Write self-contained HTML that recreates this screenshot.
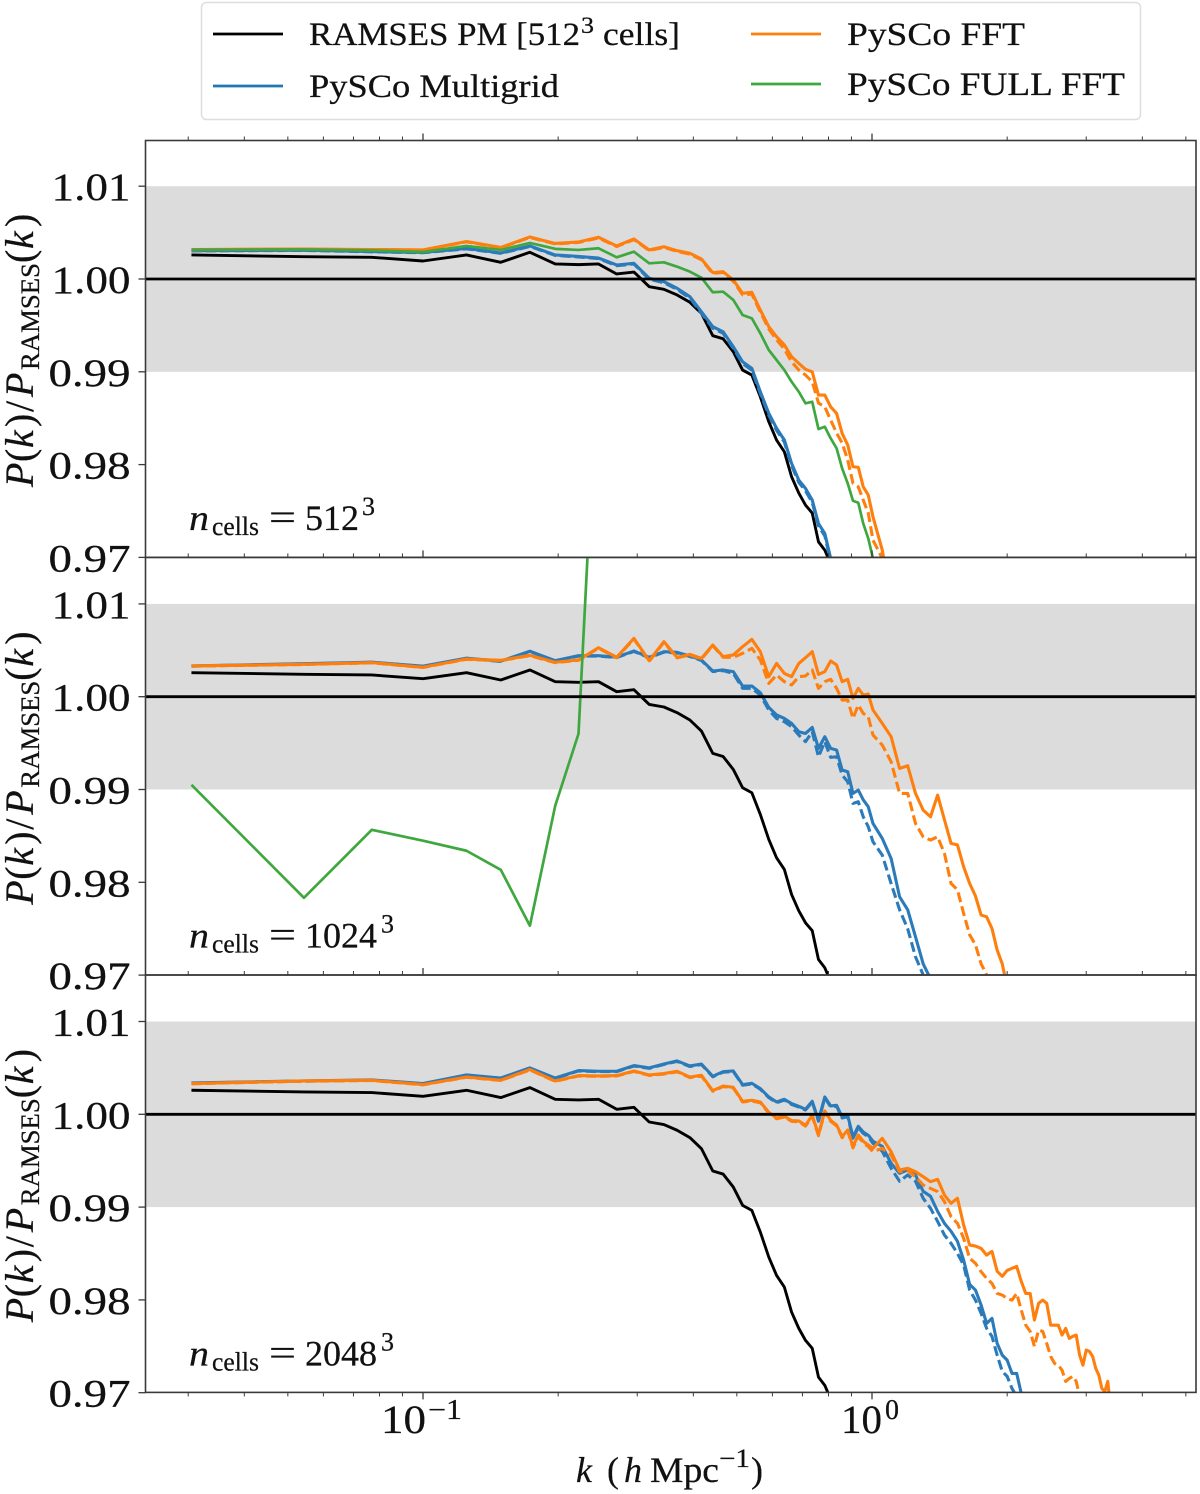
<!DOCTYPE html>
<html lang="en">
<head>
<meta charset="utf-8">
<title>PySCo power spectrum ratio</title>
<style>
html,body{margin:0;padding:0;background:#fff;}
svg{display:block;}
text{font-family:"Liberation Serif","DejaVu Serif",serif;fill:#111;stroke:#111;stroke-width:0.25px;}
</style>
</head>
<body>
<svg id="chart" xmlns="http://www.w3.org/2000/svg" width="1200" height="1494" viewBox="0 0 1200 1494">
  <g id="panels"></g>
  <g id="legend">
    <rect x="201.5" y="2.5" width="939" height="117" rx="5" fill="#fff" stroke="#dedede" stroke-width="1.5"/>
    <line x1="213" x2="283" y1="34" y2="34" stroke="#000" stroke-width="2.7"/>
    <text x="309" y="45" font-size="33" textLength="271" lengthAdjust="spacingAndGlyphs">RAMSES PM [512</text>
    <text x="581" y="33" font-size="23" textLength="13" lengthAdjust="spacingAndGlyphs">3</text>
    <text x="603" y="45" font-size="33" textLength="77" lengthAdjust="spacingAndGlyphs">cells]</text>
    <line x1="213" x2="283" y1="86" y2="86" stroke="#1f77b4" stroke-width="2.7"/>
    <text x="309" y="97" font-size="33" textLength="250" lengthAdjust="spacingAndGlyphs">PySCo Multigrid</text>
    <line x1="751" x2="821" y1="34" y2="34" stroke="#ff7f0e" stroke-width="2.7"/>
    <text x="847" y="45" font-size="33" textLength="178" lengthAdjust="spacingAndGlyphs">PySCo FFT</text>
    <line x1="751" x2="821" y1="84" y2="84" stroke="#3fa73f" stroke-width="2.7"/>
    <text x="847" y="95" font-size="33" textLength="278" lengthAdjust="spacingAndGlyphs">PySCo FULL FFT</text>
  </g>
  <g id="x-axis-title">
    <text x="576" y="1482" font-size="36" font-style="italic">k</text>
    <text x="607" y="1482" font-size="36">(</text>
    <text x="624" y="1482" font-size="36" font-style="italic">h</text>
    <text x="650" y="1482" font-size="36" textLength="69" lengthAdjust="spacingAndGlyphs">Mpc</text>
    <text x="719" y="1467" font-size="26" textLength="31" lengthAdjust="spacingAndGlyphs">−1</text>
    <text x="751" y="1482" font-size="36">)</text>
  </g>
</svg>
<script>
// ---- chart data ----
const kBins = [0.0305,0.0543,0.0769,0.1,0.125,0.149,0.173,0.197,0.222,0.246,0.27,0.295,0.319,0.344,0.368,0.393,0.417,0.442,0.466,0.491,0.515,0.54,0.564,0.589,0.613,0.638,0.662,0.687,0.711,0.736,0.76,0.785,0.809,0.834,0.858,0.883,0.907,0.932,0.956,0.981,1.005,1.054,1.103,1.152,1.201,1.25,1.3,1.35,1.4,1.45,1.5,1.55,1.6,1.65,1.7,1.75,1.8,1.85,1.9,1.95,2,2.05,2.1,2.15,2.2,2.25,2.3,2.35,2.4,2.45,2.5,2.55,2.6,2.65,2.7,2.75,2.8,2.85,2.9,2.95,3,3.05,3.1,3.15,3.2,3.25,3.3,3.35,3.38];

const ramsesRatio = [1.00259,1.00241,1.00234,1.00194,1.00259,1.0018,1.00288,1.00162,1.00155,1.00162,1.00054,1.00075,0.99917,0.99889,0.99828,0.99749,0.9963,0.99389,0.99356,0.99216,0.99019,0.98965,0.98731,0.98462,0.98264,0.98138,0.97869,0.97693,0.97564,0.97478,0.97168,0.97079,0.9693,0.966];

const p512MultigridSolid = [1.00305,1.0031,1.00295,1.00286,1.00329,1.0028,1.00356,1.00259,1.00243,1.00226,1.00151,1.00169,1.00008,0.99971,0.999,0.99809,0.99647,0.99486,0.99432,0.9927,0.99108,0.99037,0.98785,0.98553,0.98392,0.98265,0.98014,0.97833,0.97744,0.97618,0.97365,0.97258,0.96989,0.9675];
const p512MultigridDashed = [1.00303,1.00308,1.00293,1.00283,1.00325,1.00276,1.00351,1.00254,1.00238,1.0022,1.00143,1.00162,0.99998,0.9996,0.99888,0.99795,0.99632,0.9947,0.99415,0.99252,0.9909,0.99018,0.98765,0.98532,0.9837,0.98243,0.9799,0.97808,0.97718,0.97592,0.97338,0.97232,0.96962,0.9672];
const p512FftSolid = [1.00318,1.00323,1.00318,1.00313,1.00404,1.0034,1.00453,1.00383,1.00399,1.0045,1.00356,1.00431,1.00313,1.00348,1.00305,1.00277,1.00216,1.00068,1.00079,0.99989,0.99846,0.99857,0.99666,0.99486,0.99378,0.99289,0.99163,0.99091,0.99027,0.99,0.98749,0.98749,0.98623,0.98552,0.98337,0.98211,0.97977,0.97971,0.97761,0.97672,0.97438,0.97079,0.9654];
const p512FftDashed = [1.00316,1.00321,1.00316,1.00311,1.004,1.00336,1.00448,1.00378,1.00394,1.00442,1.0035,1.00425,1.00307,1.0034,1.00298,1.00268,1.00208,1.0006,1.00071,0.99975,0.9983,0.99838,0.99645,0.99462,0.99345,0.99245,0.99108,0.99019,0.98965,0.98893,0.98663,0.98623,0.9848,0.9834,0.98232,0.98049,0.978,0.97761,0.97618,0.97478,0.97186,0.96992,0.9645];
const p512FullFft = [1.00316,1.00318,1.00307,1.00291,1.00356,1.00313,1.00388,1.00325,1.00313,1.00331,1.00234,1.00294,1.00169,1.0018,1.00133,1.00079,1.00014,0.99857,0.99863,0.99774,0.99612,0.99576,0.99415,0.99235,0.99127,0.99019,0.98893,0.98785,0.9866,0.98677,0.98383,0.98408,0.98283,0.98175,0.97959,0.97797,0.9761,0.97589,0.97366,0.97204,0.96989,0.966];

const p1024MultigridSolid = [1.00331,1.00356,1.00372,1.00329,1.00415,1.00383,1.0049,1.00388,1.00442,1.00442,1.00426,1.00493,1.00424,1.00485,1.00478,1.00439,1.00396,1.00277,1.00288,1.0027,1.00115,1.00115,1.00043,0.99885,0.99803,0.99766,0.99712,0.99623,0.99604,0.99669,0.99443,0.99569,0.99443,0.99425,0.9921,0.99191,0.98958,0.98994,0.98889,0.98814,0.98634,0.98473,0.98257,0.97844,0.97704,0.97413,0.97122,0.9696,0.9675];
const p1024MultigridDashed = [1.00329,1.00354,1.0037,1.00327,1.00412,1.0038,1.00486,1.00384,1.00438,1.00438,1.00422,1.00488,1.00419,1.0048,1.00472,1.00433,1.0039,1.00271,1.00281,1.00251,1.0009,1.0009,1.00018,0.99857,0.99766,0.9973,0.99677,0.99587,0.99515,0.99623,0.99353,0.99515,0.99346,0.99353,0.99156,0.99084,0.9885,0.98868,0.98706,0.98599,0.98437,0.98293,0.97987,0.97704,0.97499,0.97197,0.97003,0.9685];
const p1024FftSolid = [1.00331,1.00349,1.00367,1.00317,1.00406,1.00392,1.00446,1.00371,1.00396,1.00528,1.00425,1.00629,1.00388,1.00593,1.00424,1.00456,1.00413,1.00557,1.00431,1.0045,1.00539,1.00618,1.00485,1.00216,1.00359,1.00251,1.00216,1.00359,1.0042,1.00485,1.0024,1.0027,1.00385,1.00342,1.00162,1.00187,0.99982,1.0009,1.00018,1.00029,0.99857,0.99712,0.99569,0.99227,0.99256,0.98958,0.98778,0.98706,0.9894,0.98674,0.98419,0.98403,0.98167,0.97987,0.97852,0.97647,0.97628,0.97502,0.97271,0.97122,0.96873];
const p1024FftDashed = [1.00329,1.00347,1.00365,1.00315,1.00403,1.00389,1.00442,1.00367,1.00392,1.00522,1.0042,1.00622,1.00382,1.00586,1.00418,1.0045,1.00407,1.0055,1.00425,1.00424,1.00467,1.00521,1.00396,1.00143,1.00234,1.00162,1.00126,1.00216,1.00223,1.00288,1.0009,1.00162,1.00187,1.0009,0.99964,0.99964,0.99766,0.9991,0.9982,0.99784,0.99587,0.99479,0.99299,0.98958,0.98958,0.98634,0.98491,0.98455,0.98491,0.98311,0.97987,0.97919,0.97664,0.97434,0.97326,0.97122,0.97003,0.96873];
const p1024FullFft = [0.99051,0.97833,0.98566,0.98448,0.9834,0.98135,0.97532,0.98825,0.99601,1.0385];

const p2048MultigridSolid = [1.00338,1.00359,1.0037,1.00331,1.00424,1.00391,1.005,1.00391,1.00471,1.00464,1.00464,1.00525,1.005,1.00542,1.00575,1.00521,1.00542,1.0041,1.0046,1.00467,1.0032,1.00334,1.00277,1.00187,1.00133,1.00162,1.00115,1.00086,1.00054,1.0014,0.99935,1.00187,1.0009,1.00097,0.99971,0.99989,0.99755,0.99871,0.99809,0.99774,0.9971,0.99655,0.99472,0.99364,0.994,0.99346,0.9917,0.99116,0.98954,0.98825,0.98739,0.98631,0.98429,0.98167,0.98106,0.97944,0.97747,0.97801,0.97531,0.97405,0.97351,0.97208,0.97208,0.96992,0.9675];
const p2048MultigridDashed = [1.00336,1.00357,1.00368,1.00329,1.00421,1.00388,1.00496,1.00387,1.00467,1.0046,1.0046,1.0052,1.00495,1.00537,1.0057,1.00515,1.00536,1.00404,1.00454,1.0046,1.00313,1.00327,1.0027,1.0018,1.00125,1.00154,1.00107,1.00078,1.00046,1.00132,0.99925,1.00176,1.0008,1.00086,0.9996,0.99975,0.99742,0.99858,0.99795,0.9976,0.99687,0.99601,0.99418,0.99278,0.99346,0.99278,0.99095,0.98987,0.98846,0.98699,0.98609,0.98501,0.98375,0.98106,0.97998,0.97855,0.97693,0.97607,0.97405,0.9723,0.97176,0.97046,0.9696,0.9675];
const p2048FftSolid = [1.00331,1.00359,1.00366,1.0032,1.00402,1.00367,1.00482,1.00359,1.00417,1.00413,1.00417,1.00467,1.00424,1.00439,1.00464,1.00402,1.0042,1.00255,1.00305,1.00291,1.0014,1.00151,1.00133,1.00022,0.9996,0.99978,0.99932,0.99928,0.99881,0.99989,0.99781,1.00036,0.99935,0.99885,0.9976,0.99831,0.99652,0.99777,0.99709,0.99669,0.99633,0.99741,0.99598,0.994,0.99418,0.99382,0.99328,0.99274,0.99299,0.9913,0.99041,0.99095,0.98807,0.98591,0.9858,0.98555,0.98483,0.98523,0.98308,0.98254,0.98318,0.9834,0.98361,0.982,0.9807,0.9807,0.97783,0.97963,0.97998,0.97963,0.97728,0.97728,0.97728,0.97621,0.97693,0.97585,0.97607,0.97621,0.97405,0.97297,0.97459,0.97445,0.97391,0.97262,0.9719,0.97046,0.97014,0.97122,0.9695];
const p2048FftDashed = [1.00329,1.00357,1.00364,1.00318,1.00399,1.00364,1.00478,1.00355,1.00413,1.00409,1.00413,1.00462,1.00419,1.00434,1.00458,1.00396,1.00414,1.00249,1.00299,1.00284,1.00133,1.00143,1.00125,1.00014,0.99952,0.9997,0.99924,0.9992,0.99873,0.99978,0.9977,1.00026,0.99925,0.99875,0.99748,0.99818,0.99638,0.99762,0.99694,0.99652,0.99598,0.99633,0.99561,0.99382,0.99393,0.99328,0.99238,0.99202,0.99167,0.99059,0.98897,0.98825,0.98663,0.98448,0.98394,0.98304,0.98232,0.98178,0.9807,0.98052,0.98016,0.97998,0.9807,0.9789,0.97728,0.97661,0.97499,0.97675,0.97661,0.97531,0.97391,0.97316,0.97297,0.97243,0.97122,0.97154,0.97176,0.97122,0.9696,0.9685];

const yTickValues = [1.01,1.00,0.99,0.98,0.97];
const yTickLabels = ["1.01","1.00","0.99","0.98","0.97"];
const xMajorTicks = [0.1,1];
const xMinorTicks = [0.03,0.04,0.05,0.06,0.07,0.08,0.09,0.2,0.3,0.4,0.5,0.6,0.7,0.8,0.9,2,3,4,5];
const panelGridSizes = ["512","1024","2048"];

// ---- axis functions ----
const NS = "http://www.w3.org/2000/svg";
const plotLeft = 145.5, plotRight = 1196;
const panelUnity = [279, 696.7, 1114.3];
const panelTop = [140.5, 557.4, 975];
const panelBottom = [557.4, 975, 1392.4];
function xScale(k){ return 872 + 449 * Math.log10(k); }
function yScale(panel, ratio){ return panelUnity[panel] - (ratio - 1) * 9280; }

function make(tag, name, attrs, parent, content){
  const el = document.createElementNS(NS, tag);
  for (const key in attrs) el.setAttribute(key, attrs[key]);
  
  
  if (content !== undefined) el.textContent = content;
  parent.appendChild(el);
  return el;
}

function drawSeries(group, panel, values, name, color, width, dashed){
  const d = values.map(function(v, i){
    return (i ? "L" : "M") + xScale(kBins[i]).toFixed(2) + " " + yScale(panel, v).toFixed(2);
  }).join(" ");
  const attrs = {d: d, fill: "none", stroke: color, "stroke-width": width, "stroke-linejoin": "round"};
  if (dashed) attrs["stroke-dasharray"] = "10 4.3";
  make("path", name, attrs, group);
}

const panelSeries = [
  [p512MultigridSolid, p512MultigridDashed, p512FftSolid, p512FftDashed, p512FullFft],
  [p1024MultigridSolid, p1024MultigridDashed, p1024FftSolid, p1024FftDashed, p1024FullFft],
  [p2048MultigridSolid, p2048MultigridDashed, p2048FftSolid, p2048FftDashed, null]
];

const root = document.getElementById("panels");
panelGridSizes.forEach(function(size, p){
  const g = make("g", "panel-" + size, {}, root);
  const top = panelTop[p], bottom = panelBottom[p];

  const clip = make("clipPath", "panel-clip-" + size, {id: "clip" + p}, g);
  make("rect", "panel-clip-area-" + size, {x: plotLeft, y: top, width: plotRight - plotLeft, height: bottom - top}, clip);

  const plot = make("g", "plot-area-" + size, {"clip-path": "url(#clip" + p + ")"}, g);
  make("rect", "one-percent-band-" + size, {
    x: plotLeft, width: plotRight - plotLeft,
    y: yScale(p, 1.01), height: yScale(p, 0.99) - yScale(p, 1.01),
    fill: "#dcdcdc"
  }, plot);

  const s = panelSeries[p];
  drawSeries(plot, p, ramsesRatio, "ramses-line-" + size, "#000", 2.9, false);
  drawSeries(plot, p, s[0], "multigrid-solid-line-" + size, "#2b7bba", 3.1, false);
  drawSeries(plot, p, s[1], "multigrid-dashed-line-" + size, "#2b7bba", 3.1, true);
  drawSeries(plot, p, s[2], "fft-solid-line-" + size, "#ff7f0e", 3.1, false);
  drawSeries(plot, p, s[3], "fft-dashed-line-" + size, "#ff7f0e", 3.1, true);
  if (s[4]) drawSeries(plot, p, s[4], "full-fft-line-" + size, "#3fa73f", 2.7, false);
  make("line", "unity-line-" + size, {x1: plotLeft, x2: plotRight, y1: yScale(p, 1), y2: yScale(p, 1), stroke: "#000", "stroke-width": 2.8}, plot);

  make("rect", "axes-frame-" + size, {x: plotLeft, y: top, width: plotRight - plotLeft, height: bottom - top, fill: "none", stroke: "#3a3a3a", "stroke-width": 1.6}, g);

  yTickValues.forEach(function(v, i){
    const y = yScale(p, v);
    make("line", "y-tick-" + size + "-" + yTickLabels[i], {x1: plotLeft - 7, x2: plotLeft, y1: y, y2: y, stroke: "#3a3a3a", "stroke-width": 1.3}, g);
    make("text", "y-tick-label-" + size + "-" + yTickLabels[i], {
      x: 130.5, y: y + 14, "font-size": 39, "text-anchor": "end",
      textLength: yTickLabels[i].charAt(0) === "1" ? 79 : 82, lengthAdjust: "spacingAndGlyphs"
    }, g, yTickLabels[i]);
  });

  xMajorTicks.forEach(function(k){
    const x = xScale(k);
    make("line", "top-major-tick-" + size + "-" + k, {x1: x, x2: x, y1: top - 7, y2: top, stroke: "#3a3a3a", "stroke-width": 1.3}, g);
    if (p === 2) make("line", "bottom-major-tick-" + k, {x1: x, x2: x, y1: bottom, y2: bottom + 7, stroke: "#3a3a3a", "stroke-width": 1.3}, g);
  });
  xMinorTicks.forEach(function(k){
    const x = xScale(k);
    make("line", "top-minor-tick-" + size + "-" + k, {x1: x, x2: x, y1: top - 4, y2: top, stroke: "#3a3a3a", "stroke-width": 1}, g);
    if (p === 2) make("line", "bottom-minor-tick-" + k, {x1: x, x2: x, y1: bottom, y2: bottom + 4, stroke: "#3a3a3a", "stroke-width": 1}, g);
  });

  // y axis title
  const off = panelUnity[p] - panelUnity[0];
  const yLabel = make("g", "y-axis-title-" + size, {transform: "translate(33," + (487 + off) + ") rotate(-90)"}, g);
  make("text", "y-title-p-" + size, {x: 0, y: 0, "font-size": 40, "font-style": "italic"}, yLabel, "P");
  make("text", "y-title-open-paren-" + size, {x: 25, y: 0, "font-size": 40}, yLabel, "(");
  make("text", "y-title-k-" + size, {x: 39, y: 0, "font-size": 40, "font-style": "italic"}, yLabel, "k");
  make("text", "y-title-close-paren-" + size, {x: 60, y: 0, "font-size": 40}, yLabel, ")");
  make("text", "y-title-slash-" + size, {x: 75, y: 0, "font-size": 40}, yLabel, "/");
  make("text", "y-title-denominator-" + size, {x: 90, y: 0, "font-size": 40, "font-style": "italic"}, yLabel, "P");
  make("text", "y-title-subscript-" + size, {x: 117, y: 6, "font-size": 26, textLength: 107, lengthAdjust: "spacingAndGlyphs"}, yLabel, "RAMSES");
  make("text", "y-title-arg-open-" + size, {x: 224, y: 0, "font-size": 40}, yLabel, "(");
  make("text", "y-title-arg-k-" + size, {x: 238, y: 0, "font-size": 40, "font-style": "italic"}, yLabel, "k");
  make("text", "y-title-arg-close-" + size, {x: 260, y: 0, "font-size": 40}, yLabel, ")");

  // resolution annotation
  const a = make("g", "resolution-annotation-" + size, {transform: "translate(0," + off + ")"}, g);
  make("text", "annotation-n-" + size, {x: 189, y: 530, "font-size": 36, "font-style": "italic", textLength: 20, lengthAdjust: "spacingAndGlyphs"}, a, "n");
  make("text", "annotation-subscript-" + size, {x: 212, y: 535, "font-size": 26, textLength: 47, lengthAdjust: "spacingAndGlyphs"}, a, "cells");
  make("text", "annotation-equals-" + size, {x: 269, y: 530, "font-size": 38, textLength: 27, lengthAdjust: "spacingAndGlyphs"}, a, "=");
  const wide = size.length === 4;
  make("text", "annotation-size-" + size, {x: 305, y: 530, "font-size": 36, textLength: wide ? 72 : 54, lengthAdjust: "spacingAndGlyphs"}, a, size);
  make("text", "annotation-exponent-" + size, {x: wide ? 381 : 362, y: 515, "font-size": 26}, a, "3");
});

// x tick labels on the bottom panel
const xLabelGroup = make("g", "x-tick-labels", {}, root);
make("text", "x-tick-label-0.1-base", {x: 381, y: 1433, "font-size": 40, textLength: 45, lengthAdjust: "spacingAndGlyphs"}, xLabelGroup, "10");
make("text", "x-tick-label-0.1-exponent", {x: 428, y: 1419, "font-size": 28, textLength: 34, lengthAdjust: "spacingAndGlyphs"}, xLabelGroup, "−1");
make("text", "x-tick-label-1-base", {x: 841, y: 1433, "font-size": 40, textLength: 41, lengthAdjust: "spacingAndGlyphs"}, xLabelGroup, "10");
make("text", "x-tick-label-1-exponent", {x: 885, y: 1419, "font-size": 28}, xLabelGroup, "0");
</script>
</body>
</html>
